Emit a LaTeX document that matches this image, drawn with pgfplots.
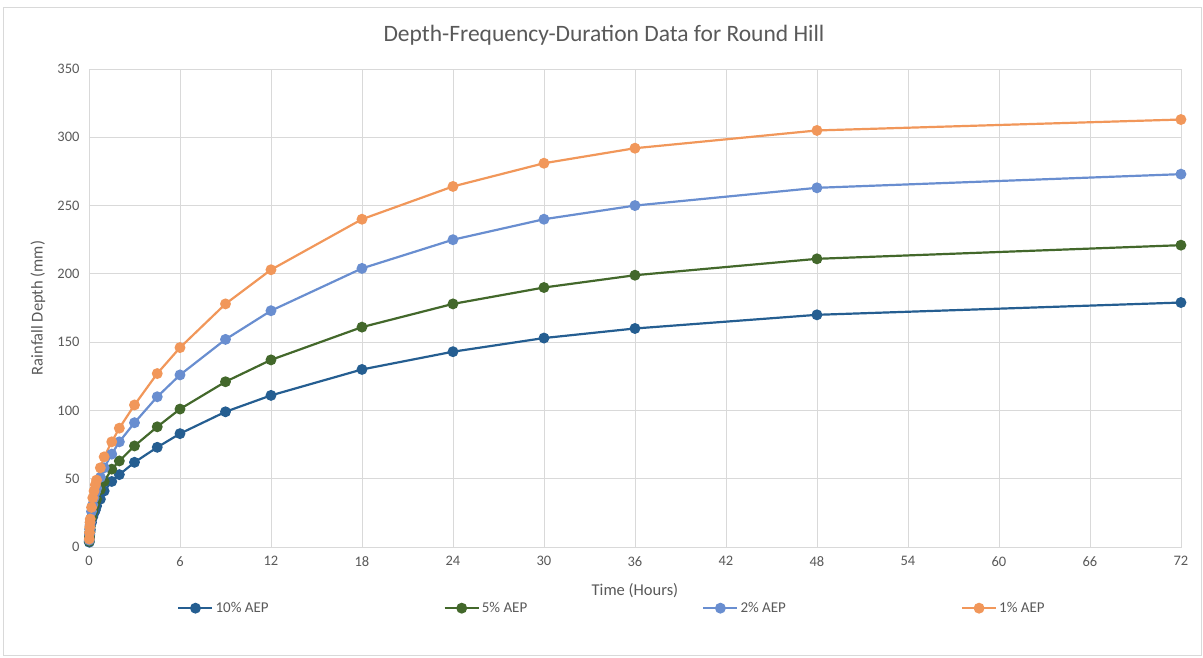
\documentclass[border=0pt]{standalone}
\usepackage{pgfplots}
\pgfplotsset{compat=1.18}
\usepackage{fontspec}
\setmainfont{Carlito}
\definecolor{c10}{HTML}{255E91}
\definecolor{c5}{HTML}{43682B}
\definecolor{c2}{HTML}{698ED0}
\definecolor{c1}{HTML}{F1975A}
\definecolor{gridc}{HTML}{D9D9D9}
\definecolor{txt}{HTML}{595959}
\pgfplotstableread{
t a10 a5 a2 a1
0.0167 3.5 4.2 5 5.8
0.0333 6.5 7.7 9.3 10.5
0.05 9 10.5 13 14.5
0.0667 11 13 16 18
0.0833 12.5 15 18 20.5
0.1667 18 21.5 26 29
0.25 22 26 31 36
0.3333 25 30 36 41
0.4167 27 33 40 45.5
0.5 30 35 43 49
0.75 35 42 51 58
1 41 48 58 66
1.5 48 57 68 77
2 53 63 77 87
3 62 74 91 104
4.5 73 88 110 127
6 83 101 126 146
9 99 121 152 178
12 111 137 173 203
18 130 161 204 240
24 143 178 225 264
30 153 190 240 281
36 160 199 250 292
48 170 211 263 305
72 179 221 273 313
}\data
\begin{document}
\begin{tikzpicture}[x=1pt,y=1pt]
\useasboundingbox (-89,-111) rectangle (1114,547);
\draw[gridc, line width=0.8pt] (-86,-108) rectangle (1112,540);
\node[txt, font=\fontsize{23.5}{26}\selectfont] at (515,512) {Depth-Frequency-Duration Data for Round Hill};
\begin{axis}[
  at={(0,0)}, anchor=south west,
  scale only axis, width=1092pt, height=478pt,
  xmin=0, xmax=72, ymin=0, ymax=350,
  xtick={0,6,...,72}, ytick={0,50,...,350},
  grid=major, major grid style={gridc, line width=0.8pt},
  axis line style={gridc, line width=0.8pt},
  tick style={draw=none},
  ticklabel style={txt, font=\fontsize{14.5}{16}\selectfont},
  /pgf/number format/assume math mode=true,
  xticklabel style={yshift=-6pt},
  yticklabel style={xshift=-6pt},
  xlabel={Time (Hours)}, ylabel={Rainfall Depth (mm)},
  label style={txt, font=\fontsize{16.5}{18}\selectfont},
  xlabel style={at={(axis description cs:0.5,-0.092)}, anchor=center},
  ylabel style={at={(axis description cs:-0.0467,0.5)}, anchor=center},
  legend columns=4,
  legend style={at={(axis description cs:0.078,-0.128)}, anchor=west, draw=none, fill=none,
    font=\fontsize{15}{17}\selectfont, text=txt,
    /tikz/every even column/.append style={column sep=173pt}},
  legend image code/.code={\draw[#1, mark repeat=2, mark phase=2] plot coordinates {(0pt,0pt) (17pt,0pt) (34pt,0pt)};},
  every axis plot/.append style={line width=2.2pt, mark=*, mark size=4.3pt},
  clip=false,
]
\addplot[c10, mark options={fill=c10}] table[x=t,y=a10] {\data};
\addlegendentry{10\% AEP}
\addplot[c5, mark options={fill=c5}] table[x=t,y=a5] {\data};
\addlegendentry{5\% AEP}
\addplot[c2, mark options={fill=c2}] table[x=t,y=a2] {\data};
\addlegendentry{2\% AEP}
\addplot[c1, mark options={fill=c1}] table[x=t,y=a1] {\data};
\addlegendentry{1\% AEP}
\end{axis}
\end{tikzpicture}
\end{document}
